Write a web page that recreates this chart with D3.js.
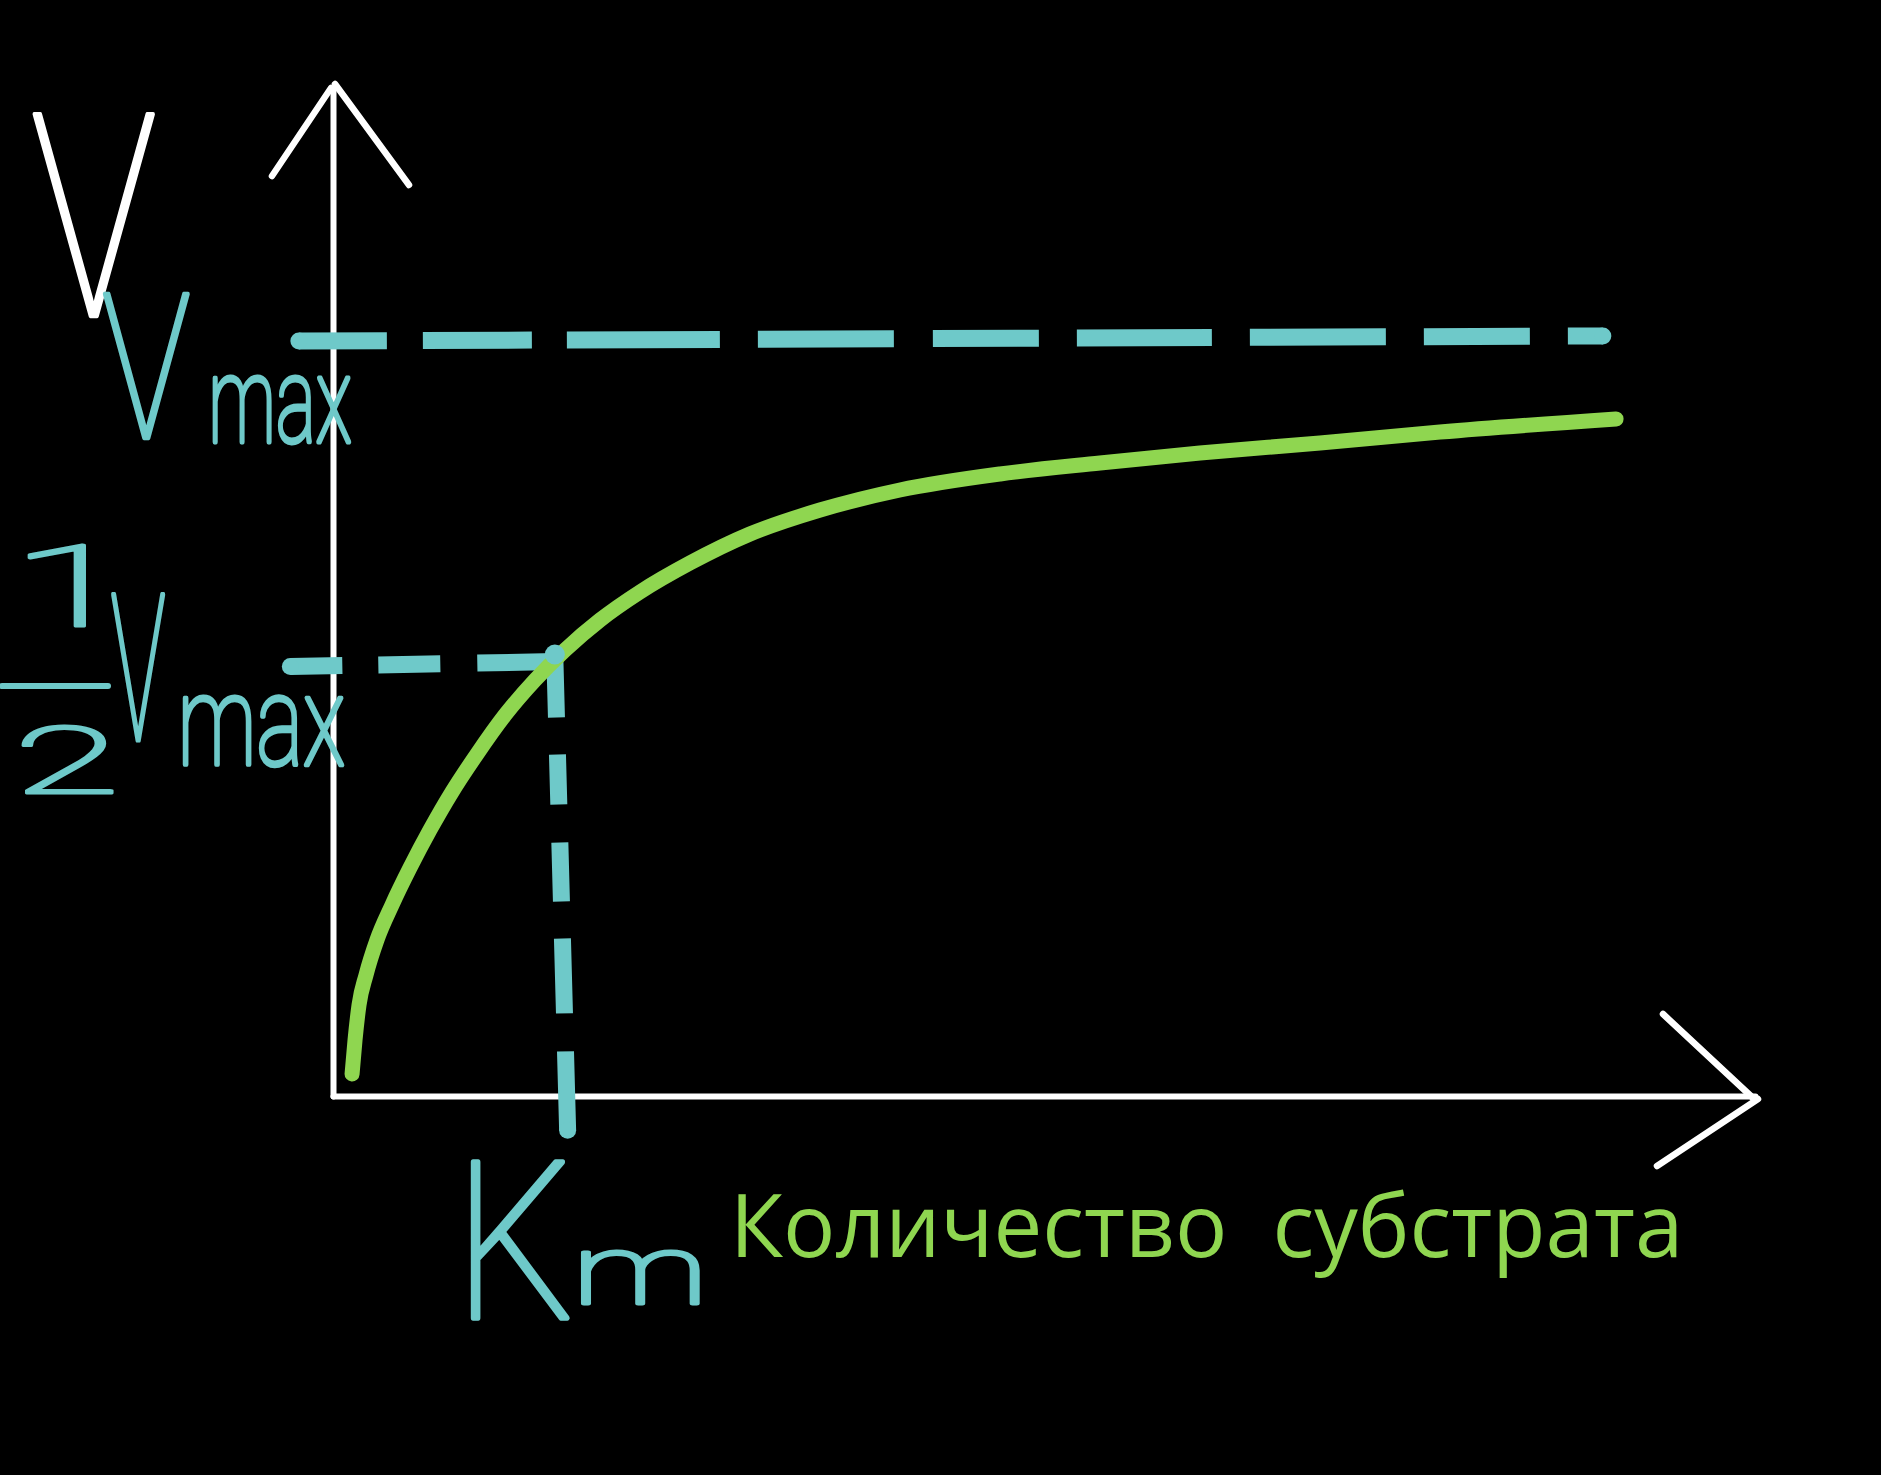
<!DOCTYPE html>
<html><head><meta charset="utf-8">
<script src="https://cdn.jsdelivr.net/npm/d3@7"></script>
<style>html,body{margin:0;padding:0;background:#000;overflow:hidden}</style>
</head><body>
<svg id="chart" width="1881" height="1475"></svg>
<script>
// ---------- data ----------
const substrate = [1.34, 1.55, 1.83, 2.32, 3.09, 4.15, 5.41, 6.82, 8.37, 10.13, 12.10, 14.21, 16.32, 18.78, 21.59, 25.11, 29.32, 34.25, 39.87, 46.91, 53.94, 60.97, 69.41, 77.85, 90.23];
const velocity  = [2.18, 5.56, 9.03, 12.0, 15.48, 18.95, 22.62, 26.39, 30.16, 33.93, 37.80, 41.27, 44.25, 47.22, 50.0, 52.88, 55.75, 58.13, 60.12, 61.71, 62.80, 63.79, 64.78, 65.87, 67.16];
const vmaxLineX = [-2.4, 89.3];
const vmaxLineY = [74.9, 75.4];
const halfLineX = [-3.0, 15.6];
const halfLineY = [42.6, 43.1];
const kmLineX   = [15.6, 16.5];
const kmLineY   = [43.5, -3.4];
const kmPoint   = [15.6, 43.8];
const xAxisTitle = "Количество  субстрата";
const yAxisTitle = "V";
const vmaxLabel = ["V", "max"];
const halfLabel = ["1", "2", "V", "max"];
const kmLabel = ["K", "m"];

// ---------- setup ----------
const W = 1881, H = 1475;
const svg = d3.select("#chart");
svg.append("rect").attr("width", W).attr("height", H).attr("fill", "#000");
const TEAL = "#6ec9c9", GREEN = "#8fd650", WHITE = "#ffffff";

const x = d3.scaleLinear().domain([0, 100]).range([333, 1755]);
const y = d3.scaleLinear().domain([0, 100]).range([1096, 88]);

// ---------- axes ----------
const xAxis = svg.append("g").attr("transform", `translate(0,${y(0)})`)
  .call(d3.axisBottom(x).tickValues([]).tickSizeOuter(0));
const yAxis = svg.append("g").attr("transform", `translate(${x(0)},0)`)
  .call(d3.axisLeft(y).tickValues([]).tickSizeOuter(0));
[xAxis, yAxis].forEach(a => a.select(".domain")
  .attr("stroke", WHITE).attr("stroke-width", 6).attr("stroke-linecap", "round"));

// arrow heads
const ax = svg.append("g").attr("stroke", WHITE).attr("stroke-width", 6.5)
  .attr("stroke-linecap", "round").attr("fill", "none");
const yTop = [x(0) - 2, y(100) - 1];
ax.append("path").attr("d", `M${yTop[0] - 59},${yTop[1] + 89}L${yTop[0]},${yTop[1] + 1}`);
ax.append("path").attr("d", `M${yTop[0] + 4},${yTop[1] - 3}L${yTop[0] + 78},${yTop[1] + 98}`);
const xEnd = [x(100), y(0) + 2];
ax.append("path").attr("d", `M${xEnd[0] - 92},${xEnd[1] - 84}L${xEnd[0] - 2},${xEnd[1]}`);
ax.append("path").attr("d", `M${xEnd[0] - 98},${xEnd[1] + 68}L${xEnd[0] + 3},${xEnd[1] + 1}`);

// ---------- dashed guide lines ----------
const line2 = (xs, ys) => d3.line()(xs.map((v, i) => [x(v), y(ys[i])]));
function dashed(xs, ys, dash, capStart, capEnd) {
  svg.append("path").attr("d", line2(xs, ys)).attr("fill", "none")
    .attr("stroke", TEAL).attr("stroke-width", 17).attr("stroke-linecap", "butt")
    .attr("stroke-dasharray", dash);
  if (capStart) svg.append("circle").attr("cx", x(xs[0])).attr("cy", y(ys[0])).attr("r", 8.5).attr("fill", TEAL);
  if (capEnd) svg.append("circle").attr("cx", x(xs[1])).attr("cy", y(ys[1])).attr("r", 8.5).attr("fill", TEAL);
}
dashed(vmaxLineX, vmaxLineY, "88 36 109 35 153 38 136 39 106 38 135 38 136 38 106 38 60", true, true);
dashed(halfLineX, halfLineY, "52 36 62 37 90", true, false);
dashed(kmLineX, kmLineY, "60 37 50 38 59 37 75 38 90", false, true);

// ---------- curve ----------
svg.append("path")
  .attr("d", d3.line().curve(d3.curveMonotoneX)(substrate.map((s, i) => [x(s), y(velocity[i])])))
  .attr("fill", "none").attr("stroke", GREEN).attr("stroke-width", 15)
  .attr("stroke-linecap", "round").attr("stroke-linejoin", "round");

svg.append("circle").attr("cx", x(kmPoint[0])).attr("cy", y(kmPoint[1])).attr("r", 10).attr("fill", TEAL);

// ---------- labels ----------
const ctx = document.createElement("canvas").getContext("2d");
function fitText(str, box, color, opt = {}) {
  const family = opt.family || "Roboto", weight = opt.weight || 100, style = opt.style || "normal";
  const sw = opt.sw == null ? 3 : opt.sw, size = opt.size || 200;
  ctx.font = `${style} ${weight} ${size}px ${family}`;
  const m = ctx.measureText(str);
  const l = -m.actualBoundingBoxLeft, r = m.actualBoundingBoxRight;
  const t = -m.actualBoundingBoxAscent, b = m.actualBoundingBoxDescent;
  const bx = [box[0] + sw / 2, box[1] + sw / 2, box[2] - sw / 2, box[3] - sw / 2];
  const sx = (bx[2] - bx[0]) / (r - l), sy = (bx[3] - bx[1]) / (b - t);
  const el = svg.append("text").text(str)
    .attr("font-family", family).attr("font-weight", weight).attr("font-style", style)
    .attr("font-size", size).attr("fill", color)
    .attr("transform", `translate(${bx[0] - l * sx},${bx[1] - t * sy}) scale(${sx},${sy})`);
  if (sw > 0) el.attr("stroke", color).attr("stroke-width", sw).attr("stroke-linejoin", "round")
    .attr("vector-effect", "non-scaling-stroke");
}

// y axis title
fitText(yAxisTitle, [32, 110, 158, 318], WHITE, {sw: 4, size: 290});
// Vmax
fitText(vmaxLabel[0], [102, 292, 190, 440], TEAL, {sw: 4, size: 210});
fitText(vmaxLabel[1], [212, 374, 352, 445], TEAL, {sw: 4});
// 1/2 Vmax
fitText(halfLabel[0], [28, 542, 86, 628], TEAL, {sw: 5});
svg.append("line").attr("x1", 2).attr("x2", 108).attr("y1", 686).attr("y2", 686)
  .attr("stroke", TEAL).attr("stroke-width", 6).attr("stroke-linecap", "round");
fitText(halfLabel[1], [22, 723, 113, 795], TEAL, {sw: 5});
fitText(halfLabel[2], [110, 592, 166, 742], TEAL, {sw: 4, size: 210});
fitText(halfLabel[3], [182, 694, 345, 768], TEAL, {sw: 4});
// Km
fitText(kmLabel[0], [470, 1158, 570, 1320], TEAL, {sw: 5});
fitText(kmLabel[1], [581, 1248, 700, 1306], TEAL, {sw: 5});

// x axis title (typed text)
(function () {
  const fam = "Open Sans", base = 87;
  ctx.font = `normal 400 ${base}px "${fam}"`;
  const m = ctx.measureText(xAxisTitle);
  const inkW = m.actualBoundingBoxRight + m.actualBoundingBoxLeft;
  const size = base * (1677 - 738) / inkW;
  svg.append("text").text(xAxisTitle)
    .attr("xml:space", "preserve").style("white-space", "pre")
    .attr("x", 738 + m.actualBoundingBoxLeft * size / base).attr("y", 1257)
    .attr("font-family", fam).attr("font-size", size).attr("fill", GREEN);
})();
</script>
</body></html>
